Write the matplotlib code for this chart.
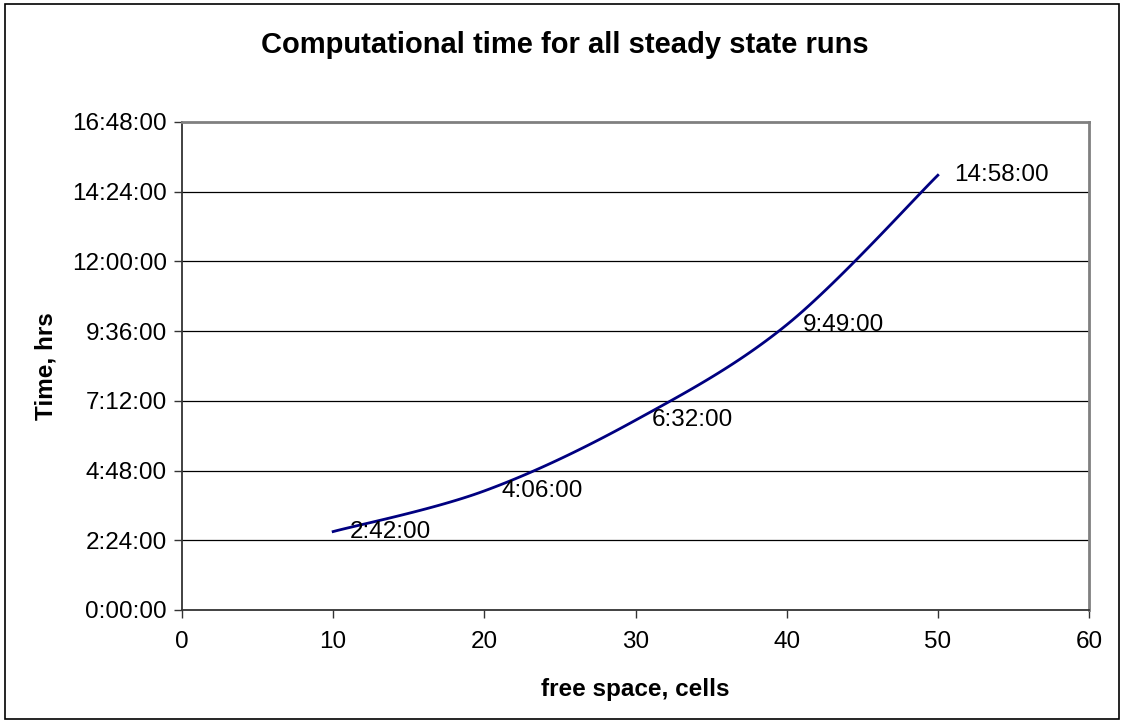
import matplotlib
matplotlib.use('Agg')
import matplotlib.pyplot as plt
import numpy as np
from matplotlib.patches import Rectangle
from matplotlib.ticker import FuncFormatter, MultipleLocator

plt.rcParams['font.family'] = ['Liberation Sans', 'DejaVu Sans']

# free space (cells) and run time (h:mm)
cells = [10, 20, 30, 40, 50]
run_times = ['2:42:00', '4:06:00', '6:32:00', '9:49:00', '14:58:00']

TITLE = 'Computational time for all steady state runs'
XLABEL = 'free space, cells'
YLABEL = 'Time, hrs'
FS = 17.5


def to_days(s):
    """Convert h:mm:ss text into fraction of a day (Excel time)."""
    h, m, sec = (int(p) for p in s.split(':'))
    return (h + m / 60 + sec / 3600) / 24


def fmt_time(v, pos=None):
    total = int(round(v * 24 * 60))
    return f'{total // 60}:{total % 60:02d}:00'


def smooth(x, y, n=30):
    """Excel-style smoothed line (Catmull-Rom through the points)."""
    x = np.asarray(x, float)
    y = np.asarray(y, float)
    px = np.concatenate([[x[0]], x, [x[-1]]])
    py = np.concatenate([[y[0]], y, [y[-1]]])
    xs, ys = [], []
    t = np.linspace(0, 1, n)
    for i in range(1, len(px) - 2):
        for arr, out in ((px, xs), (py, ys)):
            p0, p1, p2, p3 = arr[i - 1], arr[i], arr[i + 1], arr[i + 2]
            c1 = p1 + (p2 - p0) / 6
            c2 = p2 - (p3 - p1) / 6
            out.extend((1 - t) ** 3 * p1 + 3 * (1 - t) ** 2 * t * c1
                       + 3 * (1 - t) * t ** 2 * c2 + t ** 3 * p2)
    return xs, ys


values = [to_days(s) for s in run_times]

fig = plt.figure(figsize=(11.25, 7.25), dpi=100)
ax = fig.add_axes([182 / 1125, 1 - 610 / 725, 907 / 1125, 488 / 725])

for v in np.arange(0.1, 0.7, 0.1):
    ax.axhline(v, color='black', linewidth=0.9, zorder=1)

sx, sy = smooth(cells, values)
ax.plot(sx, sy, color='#000080', linewidth=2, zorder=3)

for x, v, s in zip(cells, values, run_times):
    ax.annotate(s, (x, v), xytext=(12, 0), textcoords='offset points',
                fontsize=FS, va='center', ha='left', zorder=4)

ax.set_xlim(0, 60)
ax.set_ylim(0, 0.7)
ax.xaxis.set_major_locator(MultipleLocator(10))
ax.yaxis.set_major_locator(MultipleLocator(0.1))
ax.yaxis.set_major_formatter(FuncFormatter(fmt_time))
ax.tick_params(direction='out', length=6, width=1, labelsize=FS,
               colors='#333333', labelcolor='black', pad=5)
ax.tick_params(axis='x', pad=9)

for side in ('left', 'bottom'):
    ax.spines[side].set_color('#333333')
    ax.spines[side].set_linewidth(1.3)
for side in ('top', 'right'):
    ax.spines[side].set_color('#808080')
    ax.spines[side].set_linewidth(2)

ax.set_xlabel(XLABEL, fontsize=FS, fontweight='bold', labelpad=18)
ax.set_ylabel(YLABEL, fontsize=FS, fontweight='bold', labelpad=10)

fig.text(565 / 1125, 1 - 45 / 725, TITLE, fontsize=21, fontweight='bold',
         ha='center', va='center')

fig.patches.append(Rectangle((5 / 1125, 6 / 725), 1114 / 1125, 715 / 725,
                             transform=fig.transFigure, fill=False,
                             edgecolor='black', linewidth=1.2))

fig.savefig('out.png', dpi=100)
